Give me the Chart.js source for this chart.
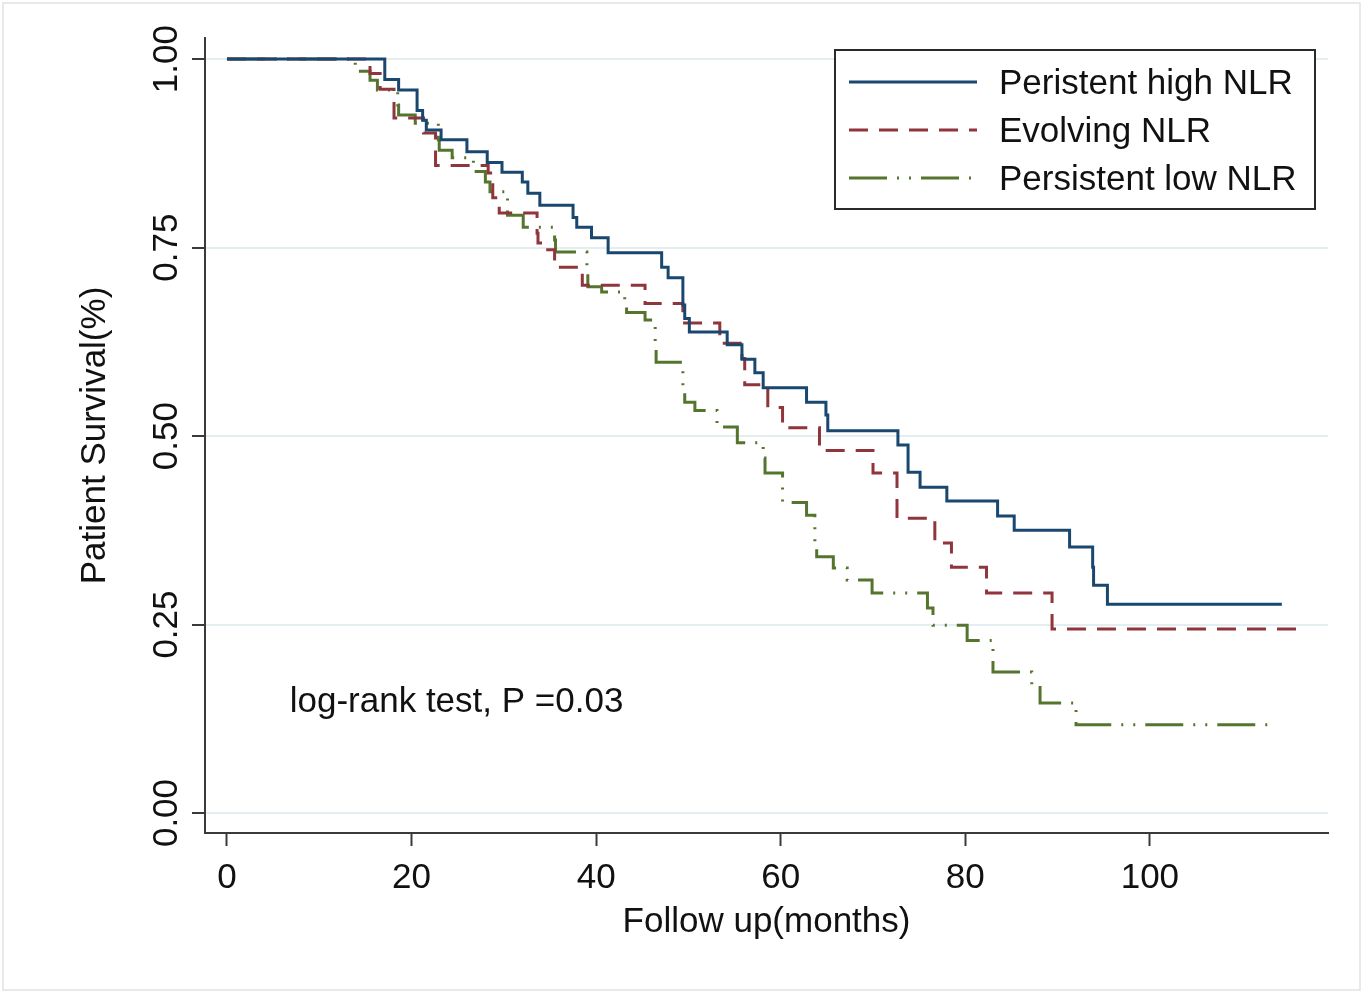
<!DOCTYPE html>
<html>
<head>
<meta charset="utf-8">
<script src="https://cdn.jsdelivr.net/npm/chart.js@4.4.1/dist/chart.umd.min.js"></script>
<style>
html,body{margin:0;padding:0;background:#fff;}
#wrap{width:1371px;height:994px;position:relative;}
</style>
</head>
<body>
<div id="wrap"><canvas id="c" width="1371" height="994"></canvas></div>
<script>
// ---- Data ----
const seriesLabels = ['Peristent high NLR', 'Evolving NLR', 'Persistent low NLR'];

const highTime = [0, 17.1, 18.6, 20.6, 21.2, 21.6, 23.2, 26.0, 28.2, 29.8, 32.0, 32.6, 33.9, 37.5, 37.9, 39.5, 41.3, 47.1, 47.8, 49.4, 49.6, 50.1, 54.2, 55.8, 57.2, 58.1, 62.8, 64.9, 65.1, 72.7, 73.8, 75.1, 78.0, 83.5, 85.3, 91.3, 93.8, 93.9, 95.4, 114.3];
const highSurv = [1, 0.973, 0.959, 0.932, 0.919, 0.906, 0.893, 0.877, 0.863, 0.850, 0.837, 0.822, 0.806, 0.790, 0.777, 0.763, 0.743, 0.724, 0.710, 0.674, 0.656, 0.638, 0.621, 0.602, 0.584, 0.564, 0.545, 0.528, 0.507, 0.488, 0.452, 0.432, 0.414, 0.394, 0.375, 0.353, 0.326, 0.302, 0.277, 0.277];

const evoTime = [0, 15.5, 16.6, 18.1, 21.3, 22.6, 28.3, 28.8, 29.5, 33.6, 33.7, 34.2, 35.5, 38.5, 45.3, 49.4, 53.4, 55.8, 56.1, 58.6, 60.2, 64.2, 70.0, 72.6, 76.7, 78.5, 82.3, 89.4, 116.8];
const evoSurv = [1, 0.981, 0.960, 0.922, 0.902, 0.859, 0.849, 0.816, 0.796, 0.769, 0.756, 0.747, 0.724, 0.700, 0.676, 0.650, 0.623, 0.603, 0.568, 0.538, 0.511, 0.481, 0.451, 0.391, 0.358, 0.326, 0.292, 0.244, 0.244];

const lowTime = [0, 13.9, 15.5, 16.3, 18.5, 18.6, 20.4, 22.9, 23.0, 24.4, 26.7, 28.0, 28.5, 30.4, 32.1, 35.5, 35.6, 39.0, 39.1, 40.6, 43.1, 43.3, 45.3, 46.4, 46.5, 49.4, 49.6, 50.7, 53.1, 55.3, 58.1, 58.3, 60.2, 62.8, 63.7, 63.9, 65.7, 67.2, 69.9, 75.9, 76.5, 80.2, 83.0, 87.2, 88.1, 92.0, 113.3];
const lowSurv = [1, 0.984, 0.972, 0.959, 0.939, 0.926, 0.915, 0.893, 0.879, 0.869, 0.851, 0.837, 0.824, 0.793, 0.777, 0.760, 0.744, 0.720, 0.698, 0.691, 0.676, 0.664, 0.654, 0.621, 0.598, 0.564, 0.545, 0.534, 0.512, 0.491, 0.471, 0.451, 0.412, 0.395, 0.359, 0.340, 0.325, 0.309, 0.292, 0.272, 0.249, 0.229, 0.187, 0.170, 0.146, 0.117, 0.117];

const xTicks = [0, 20, 40, 60, 80, 100];
const yTicks = [0, 0.25, 0.5, 0.75, 1.0];
const yTickLabels = ['0.00', '0.25', '0.50', '0.75', '1.00'];
const xTitle = 'Follow up(months)';
const yTitle = 'Patient Survival(%)';
const noteText = 'log-rank test, P =0.03';
const notePos = {x: 6.8, y: 0.147};

// ---- build ----
const toPts = (t, s) => t.map((v, i) => ({x: v, y: s[i]}));
const FONT = "'Liberation Sans', Arial, sans-serif";

const datasets = [
  {label: seriesLabels[0], data: toPts(highTime, highSurv), borderColor: '#1a476f', borderWidth: 3, borderDash: []},
  {label: seriesLabels[1], data: toPts(evoTime, evoSurv), borderColor: '#90353b', borderWidth: 3, borderDash: [19, 11]},
  {label: seriesLabels[2], data: toPts(lowTime, lowSurv), borderColor: '#55752f', borderWidth: 3, borderDash: [38, 10, 2, 10, 2, 10]}
].map(d => Object.assign(d, {stepped: 'before', pointRadius: 0, fill: false, tension: 0}));

const decor = {
  id: 'decor',
  beforeDraw(chart) {
    const ctx = chart.ctx;
    ctx.save();
    ctx.fillStyle = '#fff';
    ctx.fillRect(0, 0, chart.width, chart.height);
    ctx.strokeStyle = '#e2e2e2';
    ctx.lineWidth = 1.5;
    ctx.strokeRect(3, 3, 1357, 987);
    ctx.restore();
  },
  afterDraw(chart) {
    const ctx = chart.ctx;
    const xs = chart.scales.x, ys = chart.scales.y;
    ctx.save();
    // annotation
    ctx.font = '35px ' + FONT;
    ctx.fillStyle = '#111';
    ctx.textBaseline = 'middle';
    ctx.textAlign = 'left';
    ctx.fillText(noteText, xs.getPixelForValue(notePos.x), ys.getPixelForValue(notePos.y));
    // legend
    const bx = 835, by = 50, bw = 480, bh = 159;
    ctx.fillStyle = '#fff';
    ctx.fillRect(bx, by, bw, bh);
    ctx.strokeStyle = '#2a2a2a';
    ctx.lineWidth = 2;
    ctx.strokeRect(bx, by, bw, bh);
    const rows = [82, 130, 178];
    chart.data.datasets.forEach((d, i) => {
      const y = rows[i];
      ctx.beginPath();
      ctx.setLineDash(d.borderDash);
      ctx.strokeStyle = d.borderColor;
      ctx.lineWidth = d.borderWidth;
      ctx.moveTo(849, y);
      ctx.lineTo(977, y);
      ctx.stroke();
      ctx.setLineDash([]);
      ctx.fillStyle = '#111';
      ctx.fillText(d.label, 999, y + 2);
    });
    ctx.restore();
  }
};

new Chart(document.getElementById('c'), {
  type: 'line',
  data: {datasets},
  options: {
    responsive: false,
    animation: false,
    devicePixelRatio: 1,
    layout: {padding: {left: 0, right: 43, top: 38, bottom: 0}},
    plugins: {legend: {display: false}, tooltip: {enabled: false}},
    scales: {
      x: {
        type: 'linear',
        min: -2.38,
        max: 119.3,
        afterBuildTicks: s => { s.ticks = xTicks.map(v => ({value: v})); },
        afterFit: s => { s.height = 161; },
        grid: {drawOnChartArea: false, drawTicks: true, tickLength: 13, tickColor: '#3a3a3a', tickWidth: 2},
        border: {display: true, color: '#3a3a3a', width: 2},
        ticks: {color: '#111', font: {family: FONT, size: 35}, padding: 11, maxRotation: 0, minRotation: 0},
        title: {display: true, text: xTitle, color: '#111', font: {family: FONT, size: 35}, padding: {top: 0, bottom: 51}}
      },
      y: {
        type: 'linear',
        min: -0.0265,
        max: 1.028,
        afterBuildTicks: s => { s.ticks = yTicks.map(v => ({value: v})); },
        afterFit: s => { s.width = 205; },
        grid: {drawOnChartArea: true, color: '#e4eef1', lineWidth: 2, drawTicks: true, tickLength: 13, tickColor: '#3a3a3a', tickWidth: 2},
        border: {display: true, color: '#3a3a3a', width: 2},
        ticks: {
          color: '#111', font: {family: FONT, size: 35}, padding: -9, minRotation: 90, maxRotation: 90, crossAlign: 'center',
          callback: (v) => { const i = yTicks.indexOf(v); return i >= 0 ? yTickLabels[i] : ''; }
        },
        title: {display: true, text: yTitle, color: '#111', font: {family: FONT, size: 35}, padding: {top: 74, bottom: 0}}
      }
    }
  },
  plugins: [decor]
});
</script>
</body>
</html>
